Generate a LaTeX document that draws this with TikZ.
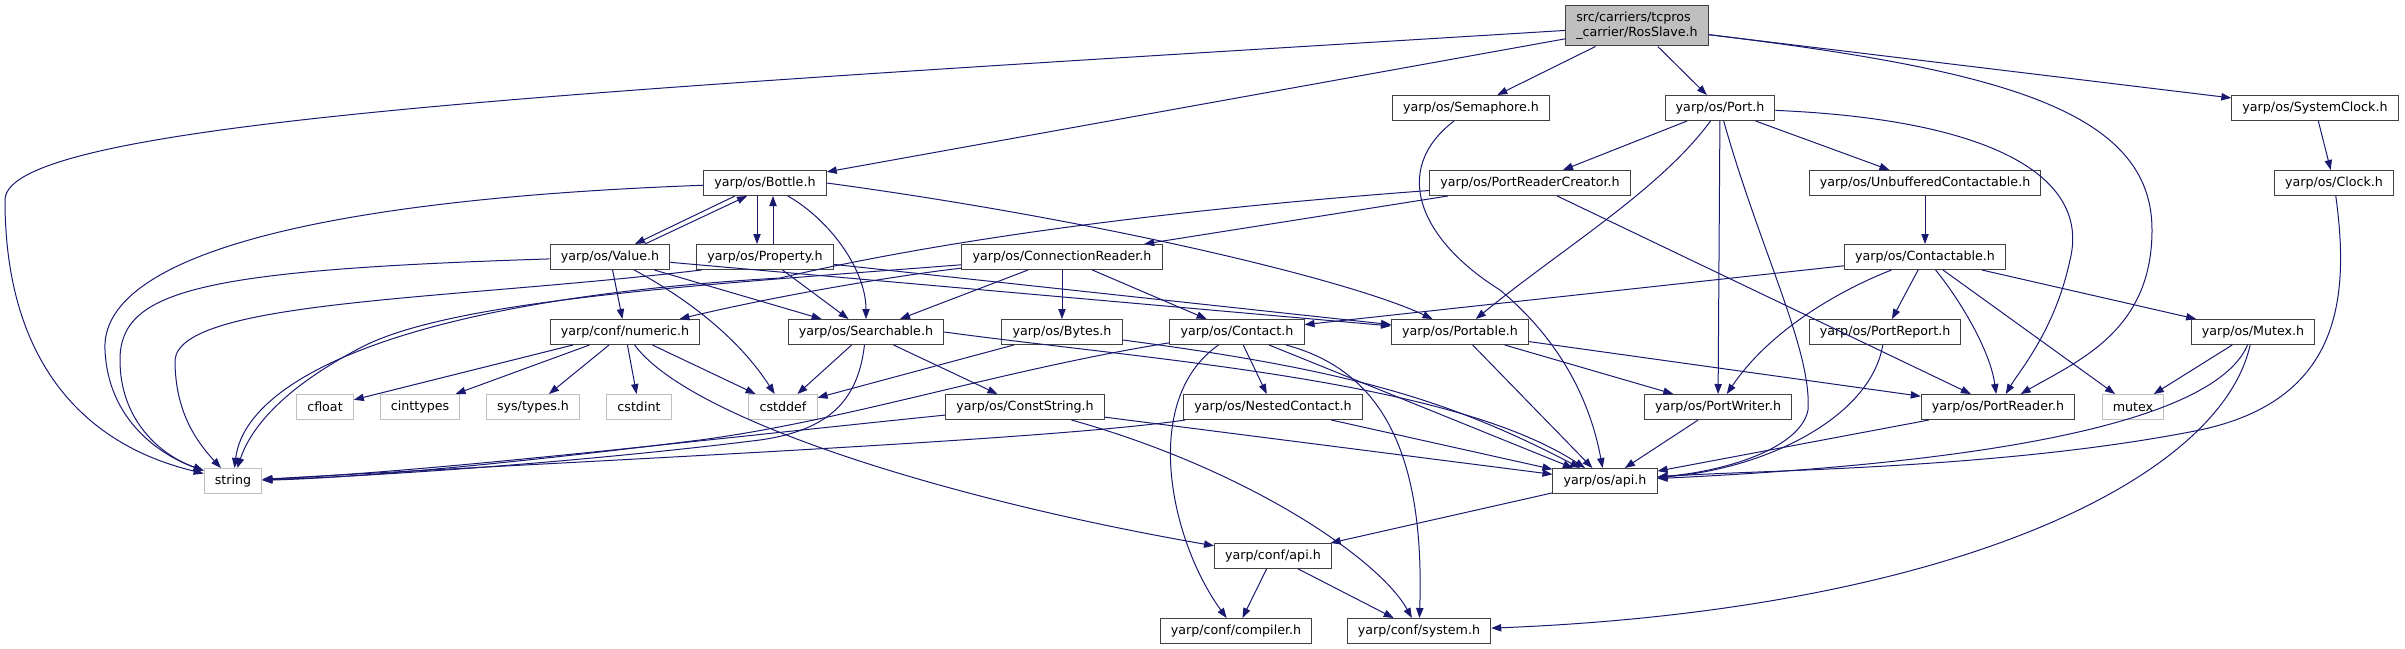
\documentclass[tikz,border=0pt]{standalone}
\usepackage{fontspec}
\setmainfont{DejaVu Sans}
\usetikzlibrary{arrows.meta}
\definecolor{edgeblue}{HTML}{191970}
\definecolor{rootgray}{HTML}{BFBFBF}

\begin{document}
\begin{tikzpicture}[x=0.75pt, y=-0.75pt,
    hdr/.style={draw=black!75, line width=0.75pt, fill=white,
                minimum height=18.75pt, inner xsep=8pt, inner ysep=2pt,
                font=\fontsize{9.5}{11.5}\selectfont},
    sys/.style={hdr, draw=rootgray},
    root/.style={hdr, fill=rootgray, align=left, minimum height=30pt},
    arr/.style={-{Triangle[length=7.5pt,width=5.5pt]}, line width=0.75pt, edgeblue}
]
\useasboundingbox (0,0) rectangle (2405,649);

% row 0 and 1
\node[root] (ros) at (1637,26) {src/carriers/tcpros\\\_carrier/RosSlave.h};
\node[hdr] (sem) at (1471,108) {yarp/os/Semaphore.h};
\node[hdr] (port) at (1720,108) {yarp/os/Port.h};
\node[hdr] (sclock) at (2315,108) {yarp/os/SystemClock.h};

% row 2
\node[hdr] (bottle) at (765,183) {yarp/os/Bottle.h};
\node[hdr] (prc) at (1530,183) {yarp/os/PortReaderCreator.h};
\node[hdr] (ubc) at (1925,183) {yarp/os/UnbufferedContactable.h};
\node[hdr] (clock) at (2334,183) {yarp/os/Clock.h};

% row 3
\node[hdr] (value) at (610,257) {yarp/os/Value.h};
\node[hdr] (prop) at (765,257) {yarp/os/Property.h};
\node[hdr] (cr) at (1062,257) {yarp/os/ConnectionReader.h};
\node[hdr] (ctb) at (1925,257) {yarp/os/Contactable.h};

% row 4
\node[hdr] (numeric) at (625,332) {yarp/conf/numeric.h};
\node[hdr] (search) at (866,332) {yarp/os/Searchable.h};
\node[hdr] (bytes) at (1062,332) {yarp/os/Bytes.h};
\node[hdr] (contact) at (1237,332) {yarp/os/Contact.h};
\node[hdr] (portable) at (1460,332) {yarp/os/Portable.h};
\node[hdr] (preport) at (1885,332) {yarp/os/PortReport.h};
\node[hdr] (mutexh) at (2253,332) {yarp/os/Mutex.h};

% row 5
\node[sys] (cfloat) at (325,407) {cfloat};
\node[sys] (cinttypes) at (420,407) {cinttypes};
\node[sys] (systypes) at (533,407) {sys/types.h};
\node[sys] (cstdint) at (639,407) {cstdint};
\node[sys] (cstddef) at (783,407) {cstddef};
\node[hdr] (cstr) at (1025,407) {yarp/os/ConstString.h};
\node[hdr] (nested) at (1273,407) {yarp/os/NestedContact.h};
\node[hdr] (pwriter) at (1718,407) {yarp/os/PortWriter.h};
\node[hdr] (preader) at (1998,407) {yarp/os/PortReader.h};
\node[sys] (mutex) at (2133,407) {mutex};

% rows 6 to 8
\node[sys] (string) at (233,481) {string};
\node[hdr] (osapi) at (1605,481) {yarp/os/api.h};
\node[hdr] (confapi) at (1273,556) {yarp/conf/api.h};
\node[hdr] (compiler) at (1236,631) {yarp/conf/compiler.h};
\node[hdr] (system) at (1419,631) {yarp/conf/system.h};

% RosSlave.h
\draw[arr] (ros) .. controls (600,90) and (5,120) .. (5,200) .. controls (5,420) and (150,460) .. (string);
\draw[arr] (ros) -- (bottle);
\draw[arr] (ros) -- (sem);
\draw[arr] (ros) -- (port);
\draw[arr] (ros) -- (sclock);
\draw[arr] (ros) .. controls (2000,70) and (2152,110) .. (2152,230) .. controls (2152,330) and (2080,360) .. (preader);

\draw[arr] (sem) .. controls (1390,170) and (1420,240) .. (1500,290) .. controls (1560,340) and (1590,400) .. (osapi);

% Port.h
\draw[arr] (port) -- (prc);
\draw[arr] (port) -- (ubc);
\draw[arr] (port) .. controls (1660,190) and (1560,250) .. (portable);
\draw[arr] (port) -- (pwriter);
\draw[arr] (port) .. controls (1760,250) and (1812,350) .. (1808,410) .. controls (1800,450) and (1720,472) .. (osapi);
\draw[arr] (port) .. controls (2000,120) and (2090,180) .. (2070,260) .. controls (2055,330) and (2020,370) .. (preader);

\draw[arr] (sclock) -- (clock);
\draw[arr] (clock) .. controls (2350,300) and (2340,400) .. (2200,430) .. controls (2000,470) and (1750,470) .. (osapi);
\draw[arr] (ubc) -- (ctb);

% Contactable.h
\draw[arr] (ctb) -- (contact);
\draw[arr] (ctb) .. controls (1840,290) and (1770,330) .. (pwriter);
\draw[arr] (ctb) -- (preport);
\draw[arr] (ctb) .. controls (1960,300) and (1990,350) .. (preader);
\draw[arr] (ctb) -- (mutex);
\draw[arr] (ctb) -- (mutexh);

\draw[arr] (preport) .. controls (1870,420) and (1760,470) .. (osapi);
\draw[arr] (mutexh) -- (mutex);
\draw[arr] (mutexh) .. controls (2220,410) and (2050,460) .. (osapi);
\draw[arr] (mutexh) .. controls (2220,480) and (1950,610) .. (system);

% PortReaderCreator.h
\draw[arr] (prc) -- (cr);
\draw[arr] (prc) -- (preader);
\draw[arr] (prc) .. controls (1100,215) and (900,250) .. (780,278) .. controls (400,300) and (245,380) .. (string);

% Bottle.h, Value.h, Property.h
\draw[arr] (bottle) .. controls (300,200) and (100,260) .. (105,350) .. controls (108,420) and (160,455) .. (string);
\draw[arr] ([xshift=-22.5pt]bottle.south) -- ([xshift=18.75pt]value.north);
\draw[arr] ([xshift=26.25pt]value.north) -- ([xshift=-13.5pt]bottle.south);
\draw[arr] ([xshift=-6pt]bottle.south) -- ([xshift=-6pt]prop.north);
\draw[arr] ([xshift=6pt]prop.north) -- ([xshift=6pt]bottle.south);
\draw[arr] (bottle) .. controls (830,220) and (866,270) .. (search);
\draw[arr] (bottle.east) .. controls (1100,220) and (1350,280) .. (portable);

\draw[arr] (value) .. controls (200,270) and (120,290) .. (120,360) .. controls (120,420) and (160,455) .. (string);
\draw[arr] (value) -- (numeric);
\draw[arr] (value) -- (search);
\draw[arr] ([yshift=-4pt]value.east) -- (portable);
\draw[arr] (value) .. controls (690,300) and (740,340) .. (cstddef);

\draw[arr] ([xshift=4pt]prop.south west) .. controls (450,300) and (180,300) .. (175,360) .. controls (175,410) and (195,440) .. (string);
\draw[arr] (prop) -- (search);
\draw[arr] (prop) -- (portable);

% ConnectionReader.h
\draw[arr] (cr) .. controls (700,285) and (450,300) .. (360,348) .. controls (280,390) and (250,430) .. (string);
\draw[arr] (cr) .. controls (900,275) and (780,295) .. (numeric);
\draw[arr] (cr) -- (search);
\draw[arr] (cr) -- (bytes);
\draw[arr] (cr) -- (contact);

% numeric.h
\draw[arr] (numeric) -- (cfloat);
\draw[arr] (numeric) -- (cinttypes);
\draw[arr] (numeric) -- (systypes);
\draw[arr] (numeric) -- (cstdint);
\draw[arr] (numeric) -- (cstddef);
\draw[arr] (numeric) .. controls (690,420) and (950,500) .. (confapi);

% Searchable.h, Bytes.h, Contact.h, Portable.h
\draw[arr] (search) -- (cstddef);
\draw[arr] (search) .. controls (858,400) and (830,430) .. (760,440) .. controls (600,460) and (400,475) .. (string);
\draw[arr] (search) -- (cstr);
\draw[arr] (search.east) .. controls (1150,360) and (1450,380) .. (osapi);
\draw[arr] (bytes) -- (cstddef);
\draw[arr] (bytes) .. controls (1350,370) and (1450,400) .. (osapi);
\draw[arr] (contact) .. controls (1000,370) and (850,420) .. (700,440) .. controls (500,465) and (350,478) .. (string);
\draw[arr] (contact) -- (nested);
\draw[arr] (contact) .. controls (1140,400) and (1170,540) .. (compiler);
\draw[arr] (contact) .. controls (1380,370) and (1425,450) .. (system);
\draw[arr] (contact) -- (osapi);
\draw[arr] (portable) -- (osapi);
\draw[arr] (portable) -- (pwriter);
\draw[arr] (portable) -- (preader);

% row 5 headers
\draw[arr] (cstr) .. controls (700,440) and (450,470) .. (string);
\draw[arr] (cstr) -- (osapi);
\draw[arr] (cstr) .. controls (1250,470) and (1380,560) .. (system);
\draw[arr] (nested) .. controls (1050,440) and (600,460) .. (string);
\draw[arr] (nested) -- (osapi);
\draw[arr] (pwriter) -- (osapi);
\draw[arr] (preader) -- (osapi);

% conf
\draw[arr] (osapi) -- (confapi);
\draw[arr] (confapi) -- (compiler);
\draw[arr] (confapi) -- (system);
\end{tikzpicture}
\end{document}
